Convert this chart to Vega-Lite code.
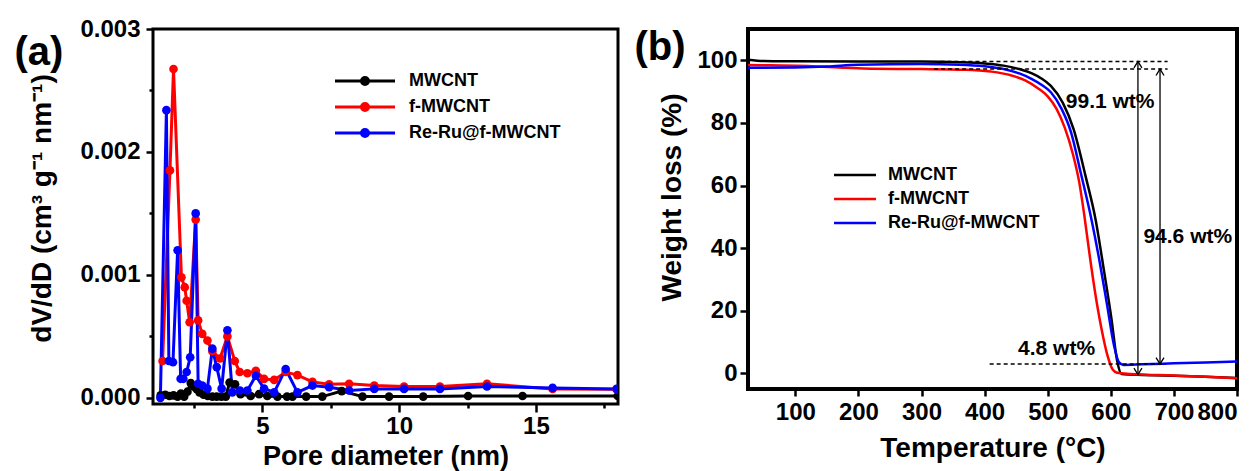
{
  "$schema": "https://vega.github.io/schema/vega-lite/v6.json",
  "background": "white",
  "padding": {"left": 12, "top": 15, "right": 0, "bottom": 0},
  "config": {
    "font": "Liberation Sans",
    "axis": {"labelFont": "Liberation Sans", "labelFontWeight": "bold", "labelColor": "black", "titleFont": "Liberation Sans", "titleFontWeight": "bold", "titleColor": "black", "tickColor": "black", "grid": false, "domain": false},
    "legend": {"labelFont": "Liberation Sans", "labelFontWeight": "bold", "labelColor": "black"}
  },
  "spacing": 12,
  "resolve": {"scale": {"color": "independent"}, "legend": {"color": "independent"}},
  "hconcat": [
    {
      "width": 465,
      "height": 375,
      "view": {"stroke": "black", "strokeWidth": 3},
      "data": {"values": [
        {"s": "MWCNT", "d": 1.28, "v": 0.00002},
        {"s": "MWCNT", "d": 1.45, "v": 0.000025},
        {"s": "MWCNT", "d": 1.60, "v": 0.000015},
        {"s": "MWCNT", "d": 1.75, "v": 0.00002},
        {"s": "MWCNT", "d": 1.90, "v": 0.00001},
        {"s": "MWCNT", "d": 2.02, "v": 0.000035},
        {"s": "MWCNT", "d": 2.14, "v": 0.00001},
        {"s": "MWCNT", "d": 2.26, "v": 0.00005},
        {"s": "MWCNT", "d": 2.38, "v": 0.00012},
        {"s": "MWCNT", "d": 2.50, "v": 0.00009},
        {"s": "MWCNT", "d": 2.60, "v": 0.00007},
        {"s": "MWCNT", "d": 2.70, "v": 0.000045},
        {"s": "MWCNT", "d": 2.85, "v": 0.000025},
        {"s": "MWCNT", "d": 3.00, "v": 0.000015},
        {"s": "MWCNT", "d": 3.17, "v": 0.00001},
        {"s": "MWCNT", "d": 3.33, "v": 0.00001},
        {"s": "MWCNT", "d": 3.50, "v": 0.00001},
        {"s": "MWCNT", "d": 3.66, "v": 0.00001},
        {"s": "MWCNT", "d": 3.80, "v": 0.000125},
        {"s": "MWCNT", "d": 4.00, "v": 0.00011},
        {"s": "MWCNT", "d": 4.20, "v": 0.00003},
        {"s": "MWCNT", "d": 4.57, "v": 0.000015},
        {"s": "MWCNT", "d": 4.88, "v": 0.00003},
        {"s": "MWCNT", "d": 5.18, "v": 0.000015},
        {"s": "MWCNT", "d": 5.55, "v": 0.00001},
        {"s": "MWCNT", "d": 5.90, "v": 0.00001},
        {"s": "MWCNT", "d": 6.10, "v": 0.00001},
        {"s": "MWCNT", "d": 6.60, "v": 0.00001},
        {"s": "MWCNT", "d": 7.19, "v": 0.00001},
        {"s": "MWCNT", "d": 7.90, "v": 0.000055},
        {"s": "MWCNT", "d": 8.66, "v": 0.00001},
        {"s": "MWCNT", "d": 9.63, "v": 0.00001},
        {"s": "MWCNT", "d": 10.88, "v": 0.00001},
        {"s": "MWCNT", "d": 12.52, "v": 0.000015},
        {"s": "MWCNT", "d": 14.51, "v": 0.000015},
        {"s": "MWCNT", "d": 17.99, "v": 0.000015},
        {"s": "f-MWCNT", "d": 1.35, "v": 0.0003},
        {"s": "f-MWCNT", "d": 1.62, "v": 0.00185},
        {"s": "f-MWCNT", "d": 1.75, "v": 0.002675},
        {"s": "f-MWCNT", "d": 2.04, "v": 0.00098},
        {"s": "f-MWCNT", "d": 2.16, "v": 0.0009},
        {"s": "f-MWCNT", "d": 2.23, "v": 0.00079},
        {"s": "f-MWCNT", "d": 2.34, "v": 0.000615},
        {"s": "f-MWCNT", "d": 2.56, "v": 0.00145},
        {"s": "f-MWCNT", "d": 2.65, "v": 0.00063},
        {"s": "f-MWCNT", "d": 2.80, "v": 0.00052},
        {"s": "f-MWCNT", "d": 2.99, "v": 0.000466},
        {"s": "f-MWCNT", "d": 3.17, "v": 0.00038},
        {"s": "f-MWCNT", "d": 3.45, "v": 0.00032},
        {"s": "f-MWCNT", "d": 3.72, "v": 0.0005},
        {"s": "f-MWCNT", "d": 3.99, "v": 0.0003},
        {"s": "f-MWCNT", "d": 4.17, "v": 0.00021},
        {"s": "f-MWCNT", "d": 4.45, "v": 0.0002},
        {"s": "f-MWCNT", "d": 4.76, "v": 0.00022},
        {"s": "f-MWCNT", "d": 5.06, "v": 0.000154},
        {"s": "f-MWCNT", "d": 5.43, "v": 0.000146},
        {"s": "f-MWCNT", "d": 5.85, "v": 0.00021},
        {"s": "f-MWCNT", "d": 6.28, "v": 0.000185},
        {"s": "f-MWCNT", "d": 6.83, "v": 0.00013},
        {"s": "f-MWCNT", "d": 7.44, "v": 0.00011},
        {"s": "f-MWCNT", "d": 8.17, "v": 0.000114},
        {"s": "f-MWCNT", "d": 9.09, "v": 0.0001},
        {"s": "f-MWCNT", "d": 10.18, "v": 0.000092},
        {"s": "f-MWCNT", "d": 11.49, "v": 0.000092},
        {"s": "f-MWCNT", "d": 13.21, "v": 0.000114},
        {"s": "f-MWCNT", "d": 15.61, "v": 0.000073},
        {"s": "f-MWCNT", "d": 17.95, "v": 0.00007},
        {"s": "Re-Ru@f-MWCNT", "d": 1.27, "v": 0.0},
        {"s": "Re-Ru@f-MWCNT", "d": 1.49, "v": 0.00234},
        {"s": "Re-Ru@f-MWCNT", "d": 1.58, "v": 0.0003},
        {"s": "Re-Ru@f-MWCNT", "d": 1.73, "v": 0.00029},
        {"s": "Re-Ru@f-MWCNT", "d": 1.90, "v": 0.0012},
        {"s": "Re-Ru@f-MWCNT", "d": 2.01, "v": 0.000155},
        {"s": "Re-Ru@f-MWCNT", "d": 2.11, "v": 0.000155},
        {"s": "Re-Ru@f-MWCNT", "d": 2.23, "v": 0.00021},
        {"s": "Re-Ru@f-MWCNT", "d": 2.36, "v": 0.00033},
        {"s": "Re-Ru@f-MWCNT", "d": 2.56, "v": 0.0015},
        {"s": "Re-Ru@f-MWCNT", "d": 2.65, "v": 0.000115},
        {"s": "Re-Ru@f-MWCNT", "d": 2.80, "v": 0.0001},
        {"s": "Re-Ru@f-MWCNT", "d": 2.99, "v": 0.000075},
        {"s": "Re-Ru@f-MWCNT", "d": 3.17, "v": 0.0004},
        {"s": "Re-Ru@f-MWCNT", "d": 3.33, "v": 0.00025},
        {"s": "Re-Ru@f-MWCNT", "d": 3.51, "v": 0.000075},
        {"s": "Re-Ru@f-MWCNT", "d": 3.72, "v": 0.00055},
        {"s": "Re-Ru@f-MWCNT", "d": 3.90, "v": 0.000045},
        {"s": "Re-Ru@f-MWCNT", "d": 4.18, "v": 0.00006},
        {"s": "Re-Ru@f-MWCNT", "d": 4.45, "v": 0.00006},
        {"s": "Re-Ru@f-MWCNT", "d": 4.76, "v": 0.00018},
        {"s": "Re-Ru@f-MWCNT", "d": 5.06, "v": 0.000075},
        {"s": "Re-Ru@f-MWCNT", "d": 5.43, "v": 0.000045},
        {"s": "Re-Ru@f-MWCNT", "d": 5.85, "v": 0.000235},
        {"s": "Re-Ru@f-MWCNT", "d": 6.28, "v": 0.000045},
        {"s": "Re-Ru@f-MWCNT", "d": 6.83, "v": 0.0001},
        {"s": "Re-Ru@f-MWCNT", "d": 7.44, "v": 0.000087},
        {"s": "Re-Ru@f-MWCNT", "d": 8.17, "v": 0.00006},
        {"s": "Re-Ru@f-MWCNT", "d": 9.09, "v": 0.000073},
        {"s": "Re-Ru@f-MWCNT", "d": 10.18, "v": 0.000073},
        {"s": "Re-Ru@f-MWCNT", "d": 11.49, "v": 0.000073},
        {"s": "Re-Ru@f-MWCNT", "d": 13.21, "v": 0.000092},
        {"s": "Re-Ru@f-MWCNT", "d": 15.61, "v": 0.000081},
        {"s": "Re-Ru@f-MWCNT", "d": 17.95, "v": 0.000073}
      ]},
      "encoding": {
        "y": {"field": "v", "type": "quantitative",
          "scale": {"domain": [-0.00005, 0.003], "nice": false, "zero": false},
          "axis": {"title": "dV/dD (cm³ g⁻¹ nm⁻¹)", "values": [0, 0.0005, 0.001, 0.0015, 0.002, 0.0025, 0.003],
            "labelExpr": "round(datum.value*10000) % 10 == 0 ? format(datum.value, '.3f') : ''",
            "tickSize": {"condition": {"test": "round(datum.value*10000) % 10 == 0", "value": 7}, "value": 4},
            "tickWidth": 2.5, "labelFontSize": 24, "titleFontSize": 28, "labelPadding": 6,
            "titleX": -111, "titleY": 179, "titleBaseline": "middle", "titleAngle": -90}},
        "color": {"field": "s", "type": "nominal",
          "scale": {"domain": ["MWCNT", "f-MWCNT", "Re-Ru@f-MWCNT"], "range": ["#000000", "#ff0000", "#0000ff"]},
          "legend": {"title": null, "orient": "none", "legendX": 203, "legendY": 43, "padding": 0,
            "symbolType": "M -6 0 L 6 0 M 0.7 0 A 0.7 0.7 0 1 1 -0.7 0 A 0.7 0.7 0 1 1 0.7 0",
            "symbolSize": 100, "symbolStrokeWidth": 3, "labelFontSize": 18, "labelOffset": 35, "rowPadding": 6}}
      },
      "layer": [
        {
          "mark": {"type": "line", "strokeWidth": 3, "clip": true},
          "encoding": {
            "x": {"field": "d", "type": "quantitative",
              "scale": {"domain": [1, 18], "nice": false, "zero": false},
              "axis": {"orient": "bottom", "title": "Pore diameter (nm)", "values": [2.5, 5, 7.5, 10, 12.5, 15, 17.5],
                "labelExpr": "datum.value % 5 == 0 ? datum.label : ''",
                "tickSize": {"condition": {"test": "datum.value % 5 == 0", "value": 8}, "value": 4},
                "tickWidth": 2.5, "labelFontSize": 24, "titleFontSize": 27, "labelPadding": 2, "titlePadding": 5}}
          }
        },
        {
          "mark": {"type": "point", "filled": true, "size": 75, "opacity": 1, "clip": true},
          "encoding": {
            "x": {"field": "d", "type": "quantitative",
              "scale": {"domain": [1, 18], "nice": false, "zero": false},
              "axis": {"orient": "top", "title": "(a)", "labels": false, "ticks": false, "domain": false,
                "titleFontSize": 40, "titleAngle": 0, "titleAlign": "left", "titleBaseline": "middle",
                "titleX": -139, "titleY": 23}}
          }
        }
      ]
    },
    {
      "width": 489,
      "height": 360,
      "view": {"stroke": "black", "strokeWidth": 4},
      "encoding": {
        "y": {"field": "W", "type": "quantitative",
          "scale": {"domain": [-5, 110], "nice": false, "zero": false},
          "axis": {"title": "Weight loss (%)", "values": [0, 20, 40, 60, 80, 100],
            "tickSize": 8, "tickWidth": 2.5, "labelFontSize": 24, "titleFontSize": 28, "labelPadding": 3,
            "titleX": -76, "titleY": 168, "titleBaseline": "middle", "titleAngle": -90}}
      },
      "layer": [
        {
          "data": {"values": [
            {"s": "MWCNT", "T": 25, "W": 100.2}, {"s": "MWCNT", "T": 50, "W": 99.8}, {"s": "MWCNT", "T": 100, "W": 99.7},
            {"s": "MWCNT", "T": 200, "W": 99.6}, {"s": "MWCNT", "T": 300, "W": 99.6}, {"s": "MWCNT", "T": 360, "W": 99.4},
            {"s": "MWCNT", "T": 400, "W": 99.0}, {"s": "MWCNT", "T": 430, "W": 98.3}, {"s": "MWCNT", "T": 455, "W": 97.2},
            {"s": "MWCNT", "T": 475, "W": 95.8}, {"s": "MWCNT", "T": 490, "W": 94.2}, {"s": "MWCNT", "T": 505, "W": 91.8},
            {"s": "MWCNT", "T": 524, "W": 86.4}, {"s": "MWCNT", "T": 541, "W": 78}, {"s": "MWCNT", "T": 560, "W": 63},
            {"s": "MWCNT", "T": 576, "W": 49}, {"s": "MWCNT", "T": 589, "W": 33}, {"s": "MWCNT", "T": 601, "W": 17.5},
            {"s": "MWCNT", "T": 610, "W": 4}, {"s": "MWCNT", "T": 617, "W": -0.2}, {"s": "MWCNT", "T": 650, "W": -0.5},
            {"s": "MWCNT", "T": 700, "W": -0.8}, {"s": "MWCNT", "T": 750, "W": -1.1}, {"s": "MWCNT", "T": 800, "W": -1.5},
            {"s": "f-MWCNT", "T": 25, "W": 98.5}, {"s": "f-MWCNT", "T": 60, "W": 98.4}, {"s": "f-MWCNT", "T": 120, "W": 98.2},
            {"s": "f-MWCNT", "T": 180, "W": 97.6}, {"s": "f-MWCNT", "T": 220, "W": 97.3}, {"s": "f-MWCNT", "T": 300, "W": 97.2},
            {"s": "f-MWCNT", "T": 370, "W": 97.0}, {"s": "f-MWCNT", "T": 410, "W": 96.4}, {"s": "f-MWCNT", "T": 440, "W": 95.3},
            {"s": "f-MWCNT", "T": 465, "W": 93.5}, {"s": "f-MWCNT", "T": 485, "W": 91.0}, {"s": "f-MWCNT", "T": 500, "W": 88.5},
            {"s": "f-MWCNT", "T": 514, "W": 84.5}, {"s": "f-MWCNT", "T": 527, "W": 78.5}, {"s": "f-MWCNT", "T": 540, "W": 70},
            {"s": "f-MWCNT", "T": 550, "W": 61}, {"s": "f-MWCNT", "T": 558, "W": 50.5}, {"s": "f-MWCNT", "T": 567, "W": 37},
            {"s": "f-MWCNT", "T": 575, "W": 26}, {"s": "f-MWCNT", "T": 585, "W": 14.5}, {"s": "f-MWCNT", "T": 595, "W": 5.5},
            {"s": "f-MWCNT", "T": 603, "W": 1.2}, {"s": "f-MWCNT", "T": 610, "W": 0.2}, {"s": "f-MWCNT", "T": 630, "W": -0.2},
            {"s": "f-MWCNT", "T": 700, "W": -0.7}, {"s": "f-MWCNT", "T": 750, "W": -1.1}, {"s": "f-MWCNT", "T": 800, "W": -1.6},
            {"s": "Re-Ru@f-MWCNT", "T": 25, "W": 97.6}, {"s": "Re-Ru@f-MWCNT", "T": 100, "W": 97.7}, {"s": "Re-Ru@f-MWCNT", "T": 150, "W": 98.0},
            {"s": "Re-Ru@f-MWCNT", "T": 200, "W": 98.6}, {"s": "Re-Ru@f-MWCNT", "T": 300, "W": 98.8}, {"s": "Re-Ru@f-MWCNT", "T": 360, "W": 98.6},
            {"s": "Re-Ru@f-MWCNT", "T": 400, "W": 98.1}, {"s": "Re-Ru@f-MWCNT", "T": 430, "W": 97.2}, {"s": "Re-Ru@f-MWCNT", "T": 455, "W": 95.8},
            {"s": "Re-Ru@f-MWCNT", "T": 475, "W": 94.0}, {"s": "Re-Ru@f-MWCNT", "T": 490, "W": 92.2}, {"s": "Re-Ru@f-MWCNT", "T": 505, "W": 89.8},
            {"s": "Re-Ru@f-MWCNT", "T": 522, "W": 84.5}, {"s": "Re-Ru@f-MWCNT", "T": 537, "W": 77}, {"s": "Re-Ru@f-MWCNT", "T": 553, "W": 63.5},
            {"s": "Re-Ru@f-MWCNT", "T": 569, "W": 49.5}, {"s": "Re-Ru@f-MWCNT", "T": 582, "W": 36}, {"s": "Re-Ru@f-MWCNT", "T": 594, "W": 22},
            {"s": "Re-Ru@f-MWCNT", "T": 605, "W": 9}, {"s": "Re-Ru@f-MWCNT", "T": 613, "W": 3.5}, {"s": "Re-Ru@f-MWCNT", "T": 620, "W": 2.7},
            {"s": "Re-Ru@f-MWCNT", "T": 650, "W": 2.9}, {"s": "Re-Ru@f-MWCNT", "T": 700, "W": 3.2}, {"s": "Re-Ru@f-MWCNT", "T": 750, "W": 3.5},
            {"s": "Re-Ru@f-MWCNT", "T": 800, "W": 3.8}
          ]},
          "mark": {"type": "line", "strokeWidth": 2.5, "interpolate": "monotone", "clip": true},
          "encoding": {
            "x": {"field": "T", "type": "quantitative",
              "scale": {"domain": [25, 800], "nice": false, "zero": false},
              "axis": {"orient": "bottom", "title": "Temperature (°C)", "values": [100, 200, 300, 400, 500, 600, 700, 800],
                "tickSize": 7, "tickWidth": 2.5, "labelFontSize": 24, "titleFontSize": 28, "labelPadding": 4, "titlePadding": 10}},
            "color": {"field": "s", "type": "nominal",
              "scale": {"domain": ["MWCNT", "f-MWCNT", "Re-Ru@f-MWCNT"], "range": ["#000000", "#ff0000", "#0000ff"]},
              "legend": {"title": null, "orient": "none", "legendX": 98, "legendY": 137, "padding": 0,
                "symbolType": "M -4.2 0 L 4.2 0", "symbolSize": 100, "symbolStrokeWidth": 2.5,
                "labelFontSize": 18, "labelOffset": 24, "rowPadding": 6}}
          }
        },
        {
          "data": {"values": [
            {"T": 330, "T2": 690, "W": 99.6},
            {"T": 320, "T2": 690, "W": 97.2},
            {"T": 408, "T2": 687, "W": 3.0}
          ]},
          "mark": {"type": "rule", "strokeDash": [4, 3], "strokeWidth": 1.5, "color": "black"},
          "encoding": {
            "x": {"field": "T", "type": "quantitative",
              "scale": {"domain": [25, 800], "nice": false, "zero": false},
              "axis": {"orient": "top", "title": "(b)", "labels": false, "ticks": false, "domain": false,
                "titleFontSize": 40, "titleAngle": 0, "titleAlign": "left", "titleBaseline": "middle",
                "titleX": -114, "titleY": 18}},
            "x2": {"field": "T2"}
          }
        },
        {
          "data": {"values": [
            {"T": 643, "W": 99.6, "W2": -0.4},
            {"T": 678, "W": 97.2, "W2": 3.0}
          ]},
          "mark": {"type": "rule", "strokeWidth": 1.3, "color": "black"},
          "encoding": {
            "x": {"field": "T", "type": "quantitative", "axis": null},
            "y2": {"field": "W2"}
          }
        },
        {
          "data": {"values": [
            {"T": 643, "W": 99.6, "dir": "up"},
            {"T": 643, "W": -0.4, "dir": "down"},
            {"T": 678, "W": 97.2, "dir": "up"},
            {"T": 678, "W": 3.0, "dir": "down"}
          ]},
          "mark": {"type": "point", "filled": false, "strokeWidth": 1.3, "color": "black", "size": 64, "opacity": 1},
          "encoding": {
            "x": {"field": "T", "type": "quantitative", "axis": null},
            "shape": {"field": "dir", "type": "nominal",
              "scale": {"domain": ["up", "down"], "range": ["M -1 1.6 L 0 0 L 1 1.6", "M -1 -1.6 L 0 0 L 1 -1.6"]},
              "legend": null}
          }
        },
        {
          "data": {"values": [
            {"T": 599, "W": 86.6, "label": "99.1 wt%"},
            {"T": 722, "W": 43.7, "label": "94.6 wt%"},
            {"T": 514, "W": 7.8, "label": "4.8 wt%"}
          ]},
          "mark": {"type": "text", "fontSize": 21, "fontWeight": "bold", "color": "black", "font": "Liberation Sans"},
          "encoding": {
            "x": {"field": "T", "type": "quantitative", "axis": null},
            "text": {"field": "label"}
          }
        }
      ]
    }
  ]
}
